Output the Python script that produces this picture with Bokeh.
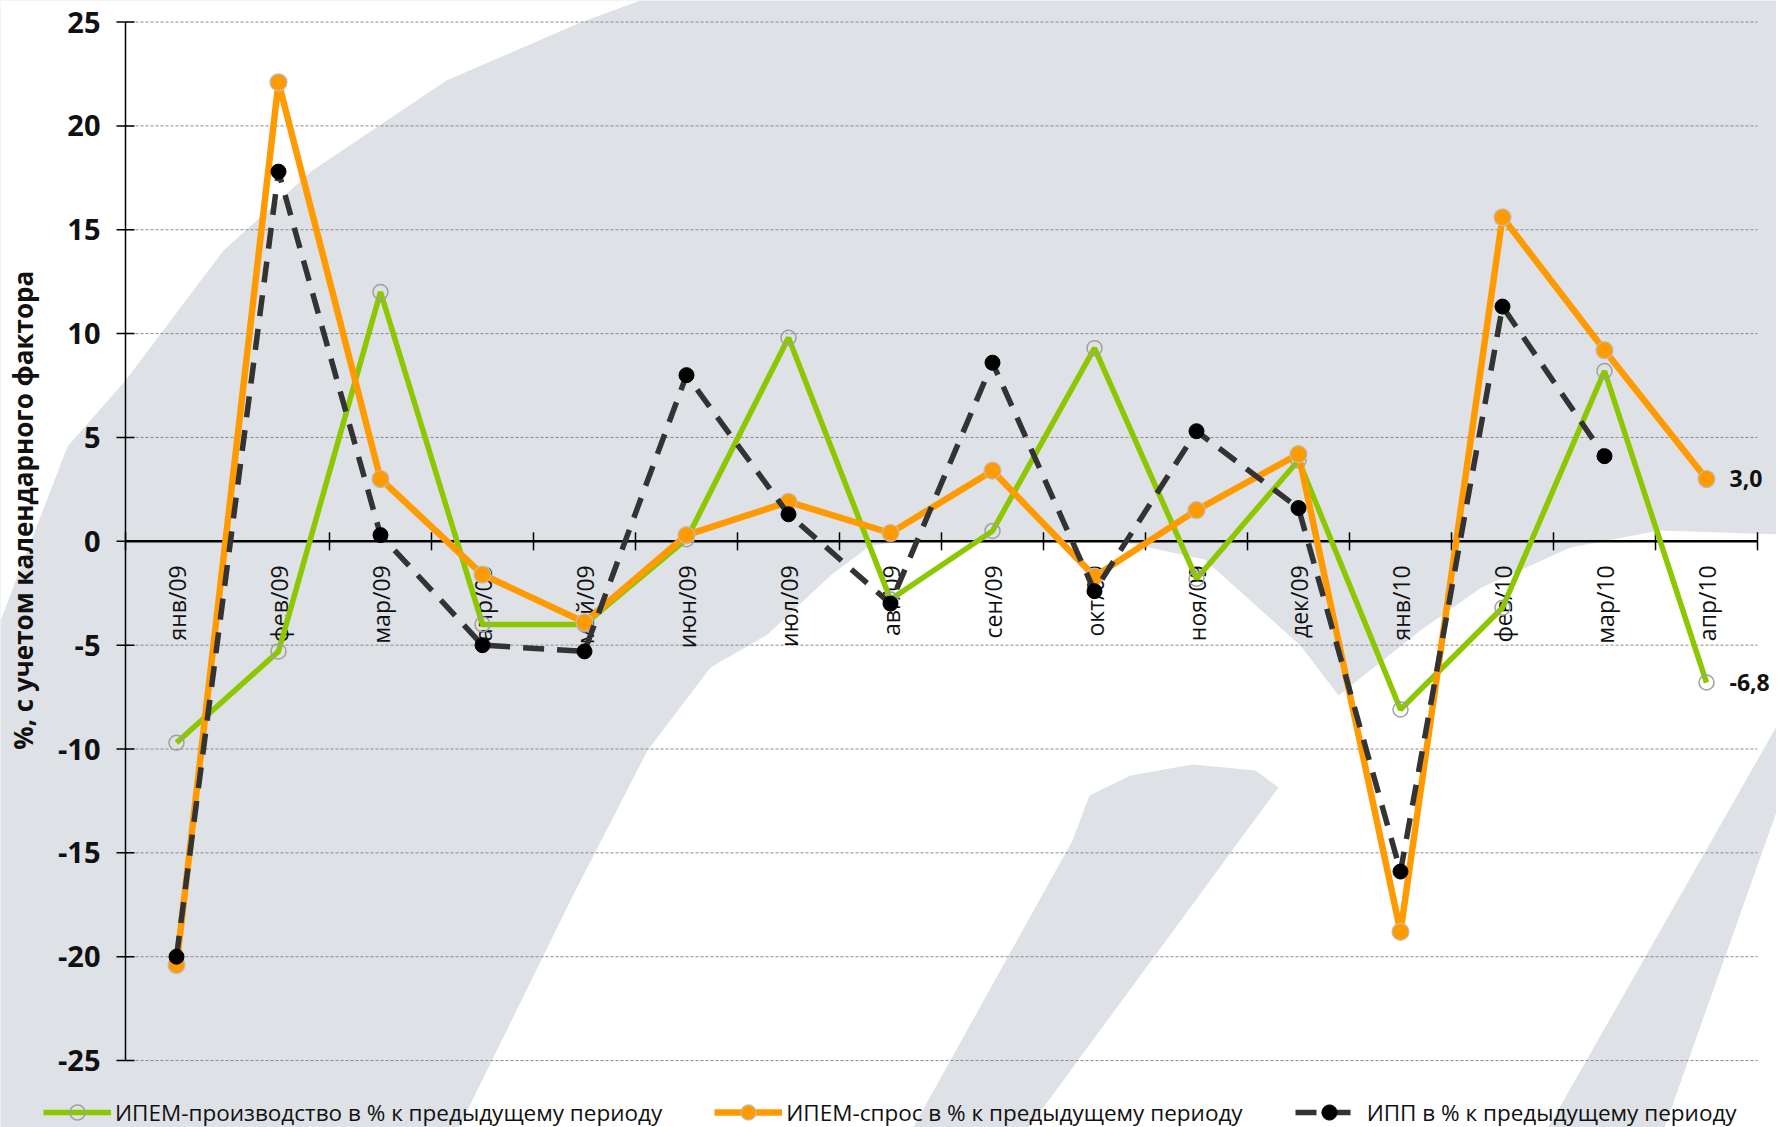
import math
from bokeh.plotting import figure
from bokeh.models import Range1d, Legend, LegendItem, ColumnDataSource
from bokeh.core.properties import value
from bokeh.embed import file_html
from bokeh.resources import INLINE

# ---------------- data ----------------
months = ["янв/09", "фев/09", "мар/09", "апр/09", "май/09", "июн/09", "июл/09", "авг/09",
          "сен/09", "окт/09", "ноя/09", "дек/09", "янв/10", "фев/10", "мар/10", "апр/10"]
ipem_prod = [-9.7, -5.3, 12.0, -4.0, -4.0, 0.1, 9.8, -2.8, 0.5, 9.3, -1.8, 3.9, -8.1, -3.2, 8.2, -6.8]
ipem_demand = [-20.4, 22.1, 3.0, -1.6, -3.9, 0.3, 1.9, 0.4, 3.4, -1.7, 1.5, 4.2, -18.8, 15.6, 9.2, 3.0]
ipp = [-20.0, 17.8, 0.3, -5.0, -5.3, 8.0, 1.3, -3.0, 8.6, -2.4, 5.3, 1.6, -15.9, 11.3, 4.1]
yticks = [-25, -20, -15, -10, -5, 0, 5, 10, 15, 20, 25]
ytick_labels = ["-25", "-20", "-15", "-10", "-5", "0", "5", "10", "15", "20", "25"]
series_names = ["ИПЕМ-производство в % к предыдущему периоду",
                "ИПЕМ-спрос в % к предыдущему периоду",
                "ИПП в % к предыдущему периоду"]
y_title = "%, с учетом календарного фактора"

GREEN = "#8cc700"
ORANGE = "#ff9a00"
DARK = "#333333"
BG_GREY = "#dee1e6"
FONT = "Open Sans"
TXT = "#111111"

n = len(months)
xs = list(range(n))
x_lo, x_hi = -0.5, n - 0.5                 # category band edges
y_lo, y_hi = yticks[0], yticks[-1]

# ---------------- canvas geometry (the frame fills the whole canvas) ----------------
W, H = 1776, 1127
PX_X, X0 = 102.0, 176.0      # px per category, page x of first category
PX_Y, Y0 = 20.77, 540.8      # px per unit, page y of zero

p = figure(width=W, height=H, output_backend="svg", toolbar_location=None,
           x_range=Range1d(-X0 / PX_X, (W - X0) / PX_X),
           y_range=Range1d(-(H - Y0) / PX_Y, Y0 / PX_Y),
           x_axis_type=None, y_axis_type=None,
           min_border=0, min_border_left=0, min_border_right=0,
           min_border_top=0, min_border_bottom=0)
p.outline_line_color = None
p.background_fill_color = BG_GREY
p.border_fill_color = "white"
p.grid.visible = False

# ---------------- watermark background (decorative, page pixel outlines) ----------------
def fx(X):
    return (X - X0) / PX_X

def fy(Y):
    return (Y0 - Y) / PX_Y

white_shapes = [
    [(0, 0), (640, 0), (580, 22), (446, 80), (312, 170), (223, 250), (125, 380), (67, 446), (0, 620)],
    [(457, 1130), (572, 896), (647, 750), (710, 667), (767, 634), (830, 575), (870, 545),
     (900, 541), (1120, 541), (1204, 559), (1300, 645), (1338, 695), (1420, 630), (1481, 587),
     (1570, 547), (1659, 530), (1780, 534), (1780, 1130)],
]
grey_shapes = [
    [(911, 1130), (1026, 1130), (1278, 787), (1255, 770), (1192, 764), (1130, 775),
     (1089, 795), (1072, 840)],
    [(1546, 1130), (1663, 1130), (1780, 800), (1780, 719)],
]
p.patches([[fx(a) for a, b in s] for s in white_shapes], [[fy(b) for a, b in s] for s in white_shapes],
          fill_color="white", line_color=None)
p.patches([[fx(a) for a, b in s] for s in grey_shapes], [[fy(b) for a, b in s] for s in grey_shapes],
          fill_color=BG_GREY, line_color=None)

# ---------------- grid, axes, ticks ----------------
p.segment(x0=[x_lo] * len(yticks), x1=[x_hi] * len(yticks), y0=yticks, y1=yticks,
          line_color="#8a8a8a", line_width=1, line_dash="3 2")
bounds = [i - 0.5 for i in range(n + 1)]
p.segment(x0=[x_lo], y0=[y_lo], x1=[x_lo], y1=[y_hi], line_color="black", line_width=1.5)
p.segment(x0=[x_lo], y0=[0], x1=[x_hi], y1=[0], line_color="black", line_width=2.5)
p.scatter(x=[x_lo] * len(yticks), y=yticks, marker="dash", size=18, line_color="black",
          line_width=1.5)
p.scatter(x=bounds, y=[0] * len(bounds), marker="dash", angle=math.pi / 2, size=18,
          line_color="black", line_width=1.5)

# y tick labels
p.text(x=[x_lo] * len(yticks), y=yticks, text=ytick_labels, x_offset=-25, text_align="right",
       text_baseline="middle", text_font=value(FONT), text_font_style="bold",
       text_font_size="29px", text_color=TXT)

# y title
p.text(x=[x_lo], y=[0], text=[y_title], x_offset=-103, y_offset=-31, angle=math.pi / 2,
       text_align="center", text_baseline="middle", text_font=value(FONT),
       text_font_style="bold", text_font_size="26px", text_color=TXT)

# category labels
lab_src = ColumnDataSource(dict(x=xs, y=[0] * n, t=months))
p.text(x="x", y="y", text="t", source=lab_src, angle=math.pi / 2, text_align="right",
       text_baseline="middle", y_offset=24, text_font=value(FONT), text_font_size="23px",
       text_color=TXT)

# ---------------- series ----------------
r_g_line = p.line(xs, ipem_prod, line_color=GREEN, line_width=5.5)
r_g_pts = p.scatter(xs, ipem_prod, size=15, marker="circle", fill_alpha=0,
                    line_color="#a0a0a0", line_width=1.5)
r_o_line = p.line(xs, ipem_demand, line_color=ORANGE, line_width=6.5)
r_o_pts = p.scatter(xs, ipem_demand, size=17, marker="circle", fill_color=ORANGE,
                    line_color="#bdbdbd", line_width=1.2)
xs_ipp = xs[:len(ipp)]
r_k_line = p.line(xs_ipp, ipp, line_color=DARK, line_width=5.5, line_dash="21 13")
r_k_pts = p.scatter(xs_ipp, ipp, size=15, marker="circle", fill_color="black", line_color="black")

# end labels
end_src = ColumnDataSource(dict(x=[xs[-1], xs[-1]], y=[ipem_demand[-1], ipem_prod[-1]],
                                t=[f"{ipem_demand[-1]:.1f}".replace(".", ","),
                                   f"{ipem_prod[-1]:.1f}".replace(".", ",")]))
p.text(x="x", y="y", text="t", source=end_src, x_offset=23, text_align="left",
       text_baseline="middle", text_font=value(FONT), text_font_style="bold",
       text_font_size="23px", text_color=TXT)

# ---------------- legend ----------------
legend = Legend(items=[
    LegendItem(label=series_names[0], renderers=[r_g_line, r_g_pts]),
    LegendItem(label=series_names[1], renderers=[r_o_line, r_o_pts]),
    LegendItem(label=series_names[2], renderers=[r_k_line, r_k_pts]),
], orientation="horizontal", location=(43, -4))
legend.label_text_font = FONT
legend.label_text_font_size = "22.5px"
legend.label_text_color = TXT
legend.glyph_width = 68
legend.glyph_height = 38
legend.spacing = 52
legend.padding = 2
legend.margin = 0
legend.label_standoff = 4
legend.border_line_color = None
legend.background_fill_alpha = 0
p.add_layout(legend, "center")

open("out.html", "w").write(file_html(p, INLINE))
